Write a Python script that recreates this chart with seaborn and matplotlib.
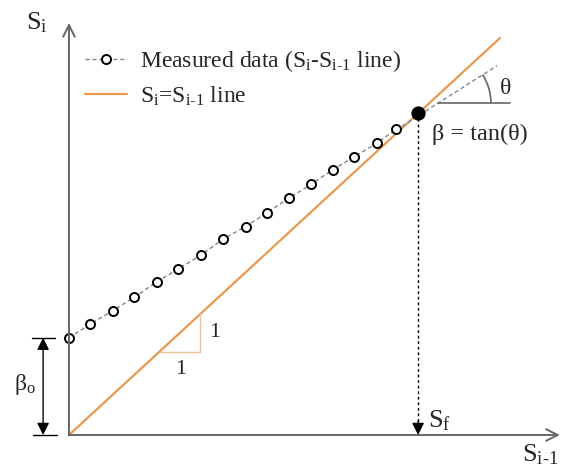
import numpy as np
import matplotlib
matplotlib.use("Agg")
import matplotlib.pyplot as plt
from matplotlib.patches import Arc
import seaborn as sns

# measured points (S_{i-1}, S_i)
s_prev = [0.000, 0.049, 0.101, 0.152, 0.204, 0.253, 0.306, 0.357,
          0.410, 0.459, 0.510, 0.562, 0.612, 0.662, 0.714, 0.759]
s_curr = [0.245, 0.279, 0.313, 0.347, 0.386, 0.418, 0.453, 0.493,
          0.525, 0.560, 0.596, 0.632, 0.668, 0.701, 0.735, 0.770]
beta0 = 0.245
beta = 0.69
s_f = 0.81

# the 1:1 line
line_x = [0.0, 1.0]
line_y = [0.0, 1.0]

# tangent extension of the measured line through S_f
ext_x = [0.759, s_f, 0.993]
ext_y = [beta0 + beta * v for v in ext_x]

orange = "#E8994F"
grey = "#666666"
hy = "\u2010"  # plain hyphen so mathtext does not space it like a minus
s_i = r"$\mathregular{S_i}$"
s_im1 = r"$\mathregular{S_{i" + hy + r"1}}$"

sns.set_theme(style="white")
plt.rcParams["font.family"] = ["Liberation Serif", "DejaVu Serif"]

fig = plt.figure(figsize=(5.61, 4.72), dpi=100)
ax = fig.add_axes([0, 0, 1, 1])
ax.set_xlim(-0.160, 1.1415)
ax.set_ylim(-0.0932, 1.0957)
ax.axis("off")

# axes with open arrow heads
ax.annotate("", xy=(1.139, 0), xytext=(0, 0),
            arrowprops=dict(arrowstyle="->,head_length=0.7,head_width=0.35",
                            color=grey, lw=1.4, shrinkA=0, shrinkB=0))
ax.annotate("", xy=(0, 1.038), xytext=(0, 0),
            arrowprops=dict(arrowstyle="->,head_length=0.7,head_width=0.35",
                            color=grey, lw=1.4, shrinkA=0, shrinkB=0))

# S_i = S_{i-1} line
sns.lineplot(x=line_x, y=line_y, color=orange, lw=1.6, ax=ax,
             label=s_i + "=" + s_im1 + " line")

# measured data
sns.lineplot(x=ext_x, y=ext_y, color="#7d8893", lw=1.0,
             linestyle=(0, (3, 2)), ax=ax, sort=False)
sns.lineplot(x=s_prev, y=s_curr, color="#7d8893", lw=1.0,
             linestyle=(0, (3, 2)), marker="o", markersize=6.5,
             markerfacecolor="white", markeredgecolor="black",
             markeredgewidth=1.4, ax=ax, sort=False,
             label="Measured data (" + s_i + "-" + s_im1 + " line)")

# intersection point
sns.scatterplot(x=[s_f], y=[s_f], color="black", s=90, zorder=5, ax=ax,
                edgecolor="black")

# dotted drop line to S_f
ax.plot([s_f, s_f], [s_f, 0.03], color="black", lw=1.0, linestyle=(0, (2, 2)))
ax.annotate("", xy=(s_f, 0), xytext=(s_f, 0.035),
            arrowprops=dict(arrowstyle="-|>,head_length=0.6,head_width=0.3",
                            color="black", lw=1.0, shrinkA=0, shrinkB=0))
ax.text(0.833, 0.035, r"$\mathregular{S_f}$", fontsize=19, ha="left", va="center")

# angle theta
vx = 0.856
vy = beta0 + beta * vx
ax.plot([vx, 1.023], [vy, vy], color=grey, lw=1.2)
ax.add_patch(Arc((vx, vy), 2 * 53 / 431, 2 * 53 / 397, theta1=0,
                 theta2=np.degrees(np.arctan(beta)), color=grey, lw=1.2))
ax.text(1.0, 0.874, "θ", fontsize=17, ha="left", va="center")
ax.text(0.842, 0.758, "β = tan(θ)", fontsize=17.5, ha="left", va="center")

# slope triangle
ax.plot([0.211, 0.304, 0.304], [0.209, 0.209, 0.304], color="#EDC49A", lw=1.0)
ax.text(0.339, 0.257, "1", fontsize=16, ha="center", va="center")
ax.text(0.258, 0.165, "1", fontsize=16, ha="center", va="center")

# beta_0 dimension
ax.annotate("", xy=(-0.060, beta0), xytext=(-0.060, 0),
            arrowprops=dict(arrowstyle="<|-|>,head_length=0.6,head_width=0.3",
                            color="black", lw=1.0, shrinkA=0, shrinkB=0))
ax.plot([-0.086, -0.032], [beta0, beta0], color="black", lw=1.0)
ax.plot([-0.084, -0.028], [0, 0], color="black", lw=1.0)
ax.text(-0.102, 0.126, r"$\mathregular{β_o}$", fontsize=17, ha="center", va="center")

# axis labels
ax.text(-0.074, 1.038, s_i, fontsize=19, ha="center", va="center")
ax.text(1.136, -0.050, s_im1, fontsize=19, ha="right", va="center")

handles, labels = ax.get_legend_handles_labels()
ax.legend(handles[::-1], labels[::-1], loc="upper left",
          bbox_to_anchor=(0.1515, 0.898), frameon=False, fontsize=17,
          handlelength=1.8, handletextpad=0.55, labelspacing=0.44,
          borderpad=0, borderaxespad=0)

fig.savefig("out.png", dpi=100)
